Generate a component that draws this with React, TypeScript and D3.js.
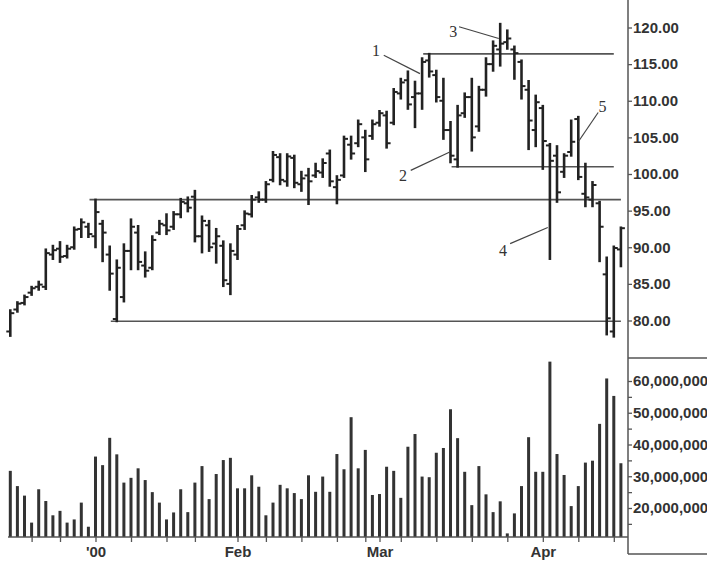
import { useEffect, useRef } from 'react';
import * as d3 from 'd3';

// trading days, mid Dec 1999 to mid Apr 2000
const dates = [
  '1999-12-15', '1999-12-16', '1999-12-17', '1999-12-20', '1999-12-21', '1999-12-22', '1999-12-23',
  '1999-12-27', '1999-12-28', '1999-12-29', '1999-12-30', '1999-12-31',
  '2000-01-03', '2000-01-04', '2000-01-05', '2000-01-06', '2000-01-07', '2000-01-10', '2000-01-11',
  '2000-01-12', '2000-01-13', '2000-01-14', '2000-01-18', '2000-01-19', '2000-01-20', '2000-01-21',
  '2000-01-24', '2000-01-25', '2000-01-26', '2000-01-27', '2000-01-28', '2000-01-31',
  '2000-02-01', '2000-02-02', '2000-02-03', '2000-02-04', '2000-02-07', '2000-02-08', '2000-02-09',
  '2000-02-10', '2000-02-11', '2000-02-14', '2000-02-15', '2000-02-16', '2000-02-17', '2000-02-18',
  '2000-02-22', '2000-02-23', '2000-02-24', '2000-02-25', '2000-02-28', '2000-02-29',
  '2000-03-01', '2000-03-02', '2000-03-03', '2000-03-06', '2000-03-07', '2000-03-08', '2000-03-09',
  '2000-03-10', '2000-03-13', '2000-03-14', '2000-03-15', '2000-03-16', '2000-03-17', '2000-03-20',
  '2000-03-21', '2000-03-22', '2000-03-23', '2000-03-24', '2000-03-27', '2000-03-28', '2000-03-29',
  '2000-03-30', '2000-03-31',
  '2000-04-03', '2000-04-04', '2000-04-05', '2000-04-06', '2000-04-07', '2000-04-10', '2000-04-11',
  '2000-04-12', '2000-04-13', '2000-04-14', '2000-04-17', '2000-04-18',
];

const high = [
  81.4, 82.5, 83.4, 84.6, 85.3, 89.7, 90.2, 90.7, 90.2, 92.7, 93.8, 93.2,
  96.5, 93.6, 90.1, 88.2, 90.4, 93.8, 92.9, 89.3, 91.5, 93.6, 94.5, 94.8, 96.6, 96.8,
  97.7, 94.2, 93.6, 92.5, 90.8, 90.4,
  92.9, 94.9, 97.0, 97.5, 98.9, 103.0, 102.7, 102.7, 102.5, 100.3, 100.7, 101.4, 102.0, 103.2,
  99.7, 105.1, 105.1, 107.3, 105.9, 107.3,
  108.6, 108.5, 111.6, 113.0, 114.0, 112.6, 115.8, 116.4, 114.1, 113.0, 107.1, 109.3, 111.0,
  113.0, 111.9, 115.8, 118.1, 120.5, 119.6, 117.4, 115.5, 112.7, 110.7,
  109.3, 104.1, 103.8, 102.7, 107.3, 107.8, 101.4, 98.9, 96.2, 88.6, 90.1, 92.7,
];
const low = [
  77.9, 81.2, 82.2, 83.5, 84.2, 84.3, 88.4, 88.0, 88.6, 89.8, 91.4, 91.4,
  90.0, 88.1, 84.2, 79.9, 82.6, 87.0, 87.0, 86.0, 87.0, 91.8, 91.8, 92.5, 94.1, 94.9,
  90.8, 89.3, 89.5, 87.9, 84.7, 83.6,
  88.4, 92.5, 94.2, 96.2, 96.2, 99.0, 98.6, 98.4, 98.2, 97.7, 95.9, 99.6, 99.6, 98.4,
  96.0, 99.6, 102.1, 103.8, 100.4, 104.8,
  106.6, 103.6, 106.8, 110.3, 108.9, 106.4, 108.9, 113.3, 109.9, 104.8, 101.6, 101.0, 107.8,
  103.2, 105.9, 110.7, 114.1, 114.8, 117.1, 113.0, 110.3, 103.4, 103.8,
  100.7, 88.4, 96.2, 99.6, 102.5, 99.3, 95.6, 95.6, 88.1, 78.1, 77.8, 87.4,
];
const open = [
  78.5, 81.5, 82.4, 83.8, 84.6, 84.6, 89.0, 89.8, 88.8, 90.0, 92.5, 92.8,
  91.5, 93.2, 89.0, 80.2, 83.2, 89.5, 92.0, 87.5, 87.2, 92.0, 93.0, 92.8, 94.5, 96.0,
  96.9, 91.5, 93.0, 90.5, 90.2, 85.0,
  89.0, 93.0, 94.5, 96.8, 96.5, 99.2, 102.3, 99.0, 102.2, 98.6, 99.8, 99.8, 100.2, 102.8,
  98.2, 99.8, 104.0, 104.2, 105.0, 105.2,
  107.0, 108.0, 107.0, 111.0, 112.8, 110.5, 111.0, 115.5, 113.5, 110.0, 106.0, 102.0, 108.3,
  110.5, 106.5, 111.5, 115.0, 117.0, 118.0, 117.0, 115.3, 111.5, 106.0,
  109.0, 103.9, 102.5, 100.3, 103.0, 107.5, 97.3, 96.5, 96.0, 86.3, 78.5, 89.7,
];
const close = [
  81.0, 82.3, 83.2, 84.4, 84.9, 89.2, 89.6, 88.7, 89.8, 92.4, 93.4, 91.8,
  94.8, 92.0, 86.4, 87.2, 89.5, 92.8, 88.0, 86.8, 91.0, 93.2, 92.3, 94.5, 96.2, 95.4,
  91.5, 93.6, 90.0, 91.5, 85.5, 89.5,
  92.5, 94.6, 96.5, 96.5, 98.6, 102.6, 99.2, 102.4, 98.8, 99.4, 99.0, 100.4, 101.5, 99.0,
  99.2, 104.8, 102.8, 106.8, 102.0, 106.8,
  108.3, 104.2, 111.2, 112.5, 109.5, 111.0, 115.3, 114.0, 110.5, 106.0, 102.5, 108.0, 110.5,
  105.0, 111.5, 115.0, 117.5, 117.8, 118.5, 116.5, 112.0, 107.3, 109.8,
  104.5, 101.8, 97.5, 102.5, 104.4, 99.6, 96.8, 98.5, 92.8, 80.3, 89.9, 92.6,
];
// millions of shares
const volume = [
  31.7, 26.9, 23.9, 15.4, 25.9, 22.2, 17.7, 19.1, 15.4, 16.4, 21.7, 14.1,
  36.2, 33.5, 42.1, 36.9, 28.0, 29.5, 32.5, 28.8, 25.0, 21.7, 16.4, 18.6, 25.9, 18.7,
  28.0, 33.2, 22.8, 30.7, 35.1, 35.8,
  26.2, 26.2, 30.3, 26.7, 17.7, 21.7, 27.3, 26.2, 24.7, 22.8, 30.3, 25.1, 29.9, 25.1,
  37.0, 32.2, 48.6, 32.5, 38.3, 24.1,
  24.4, 33.0, 31.7, 23.2, 39.3, 43.3, 29.9, 29.7, 37.4, 38.9, 51.1, 42.0, 31.4,
  20.9, 33.2, 24.3, 18.7, 22.1, 12.0, 18.3, 26.9, 42.3, 31.4,
  31.4, 66.1, 37.0, 30.4, 20.6, 26.9, 34.3, 34.9, 46.5, 60.8, 55.3, 34.1,
];

const tickDates = [
  '1999-12-20', '1999-12-27', '2000-01-03', '2000-01-10', '2000-01-18', '2000-01-24', '2000-02-01',
  '2000-02-07', '2000-02-14', '2000-02-22', '2000-02-28', '2000-03-01', '2000-03-06', '2000-03-13',
  '2000-03-20', '2000-03-27', '2000-04-03', '2000-04-10', '2000-04-17',
];
const monthLabels: Record<string, string> = {
  '2000-01-03': "'00", '2000-02-01': 'Feb', '2000-03-01': 'Mar', '2000-04-03': 'Apr',
};

const priceTicks = [80, 85, 90, 95, 100, 105, 110, 115, 120];
const volumeTicks = [15, 20, 25, 30, 35, 40, 45, 50, 55, 60];

// support / resistance levels
const levelPrice = [79.9, 96.5, 116.4, 101.0];
const levelFrom = ['2000-01-06', '2000-01-03', '2000-03-10', '2000-03-16'];
const levelTo = ['2000-04-18', '2000-04-18', '2000-04-17', '2000-04-17'];

// numbered notes: label spot and pointer in trading-day index / price
const noteLabel = ['1', '2', '3', '4', '5'];
const noteTextIdx = [51.5, 55.3, 62.4, 69.4, 83.4];
const noteTextPrice = [116.9, 99.8, 119.5, 89.6, 109.2];
const noteFromIdx = [52.6, 56.4, 63.2, 70.4, 82.8];
const noteFromPrice = [116.2, 100.5, 120.1, 90.5, 108.4];
const noteToIdx = [57.7, 61.9, 68.8, 75.7, 80.0];
const noteToPrice = [113.7, 103.0, 118.5, 92.7, 104.4];

const App = () => {
  const svgRef = useRef<SVGSVGElement>(null);

  useEffect(() => {
    const svg = d3.select(svgRef.current);
    svg.selectAll('*').remove();

    const W = 707;
    const axisX = 628;
    const baseY = 537;
    const ink = '#222';
    const grey = '#555';

    const x = d3.scalePoint<string>().domain(dates).range([10.3, 620.9]);
    const xi = d3.scaleLinear().domain([0, dates.length - 1]).range([10.3, 620.9]);
    const y = d3.scaleLinear().domain([80, 120]).range([320.5, 27.5]);
    const yv = d3.scaleLinear().domain([20, 60]).range([508, 381]);

    svg.append('rect').attr('width', W).attr('height', 565).attr('fill', '#fff');

    // level lines
    svg.append('g')
      .selectAll('line')
      .data(levelPrice)
      .enter().append('line')
      .attr('x1', (d, i) => (x(levelFrom[i]) as number) - 6)
      .attr('x2', (d, i) => x(levelTo[i]) as number)
      .attr('y1', d => y(d))
      .attr('y2', d => y(d))
      .attr('stroke', grey)
      .attr('stroke-width', 1.6);

    // OHLC bars
    const bars = svg.append('g').attr('stroke', ink);
    dates.forEach((d, i) => {
      const cx = x(d) as number;
      bars.append('line')
        .attr('x1', cx).attr('x2', cx)
        .attr('y1', y(high[i]) - 1).attr('y2', y(low[i]) + 1)
        .attr('stroke-width', 2.6);
      bars.append('line')
        .attr('x1', cx - 4).attr('x2', cx)
        .attr('y1', y(open[i])).attr('y2', y(open[i]))
        .attr('stroke-width', 2);
      bars.append('line')
        .attr('x1', cx).attr('x2', cx + 4)
        .attr('y1', y(close[i])).attr('y2', y(close[i]))
        .attr('stroke-width', 2);
    });

    // volume
    svg.append('g')
      .selectAll('rect')
      .data(volume)
      .enter().append('rect')
      .attr('x', (d, i) => (x(dates[i]) as number) - 1.5)
      .attr('width', 3)
      .attr('y', d => yv(d))
      .attr('height', d => baseY - yv(d))
      .attr('fill', '#333');

    // notes
    const notes = svg.append('g');
    noteLabel.forEach((t, i) => {
      notes.append('line')
        .attr('x1', xi(noteFromIdx[i])).attr('y1', y(noteFromPrice[i]))
        .attr('x2', xi(noteToIdx[i])).attr('y2', y(noteToPrice[i]))
        .attr('stroke', '#444').attr('stroke-width', 1.2);
      notes.append('text')
        .attr('x', xi(noteTextIdx[i])).attr('y', y(noteTextPrice[i]))
        .attr('dy', '0.35em')
        .attr('text-anchor', 'middle')
        .attr('font-family', '"Liberation Serif", "Times New Roman", serif')
        .attr('font-size', 16)
        .attr('fill', '#333')
        .text(t);
    });

    // frame lines
    const frame = svg.append('g').attr('stroke', grey).attr('stroke-width', 1.5);
    frame.append('line').attr('x1', axisX).attr('x2', axisX).attr('y1', 0).attr('y2', 554);
    frame.append('line').attr('x1', 8).attr('x2', axisX).attr('y1', baseY).attr('y2', baseY);
    frame.append('line').attr('x1', axisX).attr('x2', W).attr('y1', 358).attr('y2', 358);
    frame.append('line').attr('x1', axisX).attr('x2', W).attr('y1', 554).attr('y2', 554);

    const styleAxis = (g: d3.Selection<SVGGElement, unknown, null, undefined>) => {
      g.select('.domain').remove();
      g.selectAll('line').attr('stroke', grey).attr('stroke-width', 1.3);
      g.selectAll('text')
        .attr('fill', '#333')
        .attr('font-family', '"Liberation Sans", Arial, sans-serif')
        .attr('font-weight', 'bold')
        .attr('font-size', 15);
    };

    svg.append('g')
      .attr('transform', `translate(0,${baseY})`)
      .call(d3.axisBottom(x).tickValues(tickDates).tickFormat(d => monthLabels[d] ?? '').tickSize(5).tickPadding(4))
      .call(styleAxis);

    svg.append('g')
      .attr('transform', `translate(${axisX},0)`)
      .call(d3.axisRight(y).tickValues(priceTicks).tickFormat(d3.format('.2f')).tickSize(4).tickPadding(1))
      .call(styleAxis);

    svg.append('g')
      .attr('transform', `translate(${axisX},0)`)
      .call(d3.axisRight(yv).tickValues(volumeTicks)
        .tickFormat(d => ((d as number) % 10 === 0 ? d3.format(',')((d as number) * 1e6) : ''))
        .tickSize(4).tickPadding(1))
      .call(styleAxis);
  }, []);

  return (
    <svg ref={svgRef} width={707} height={565}
      style={{ position: 'absolute', left: 0, top: 0, display: 'block' }} />
  );
};

export default App;
